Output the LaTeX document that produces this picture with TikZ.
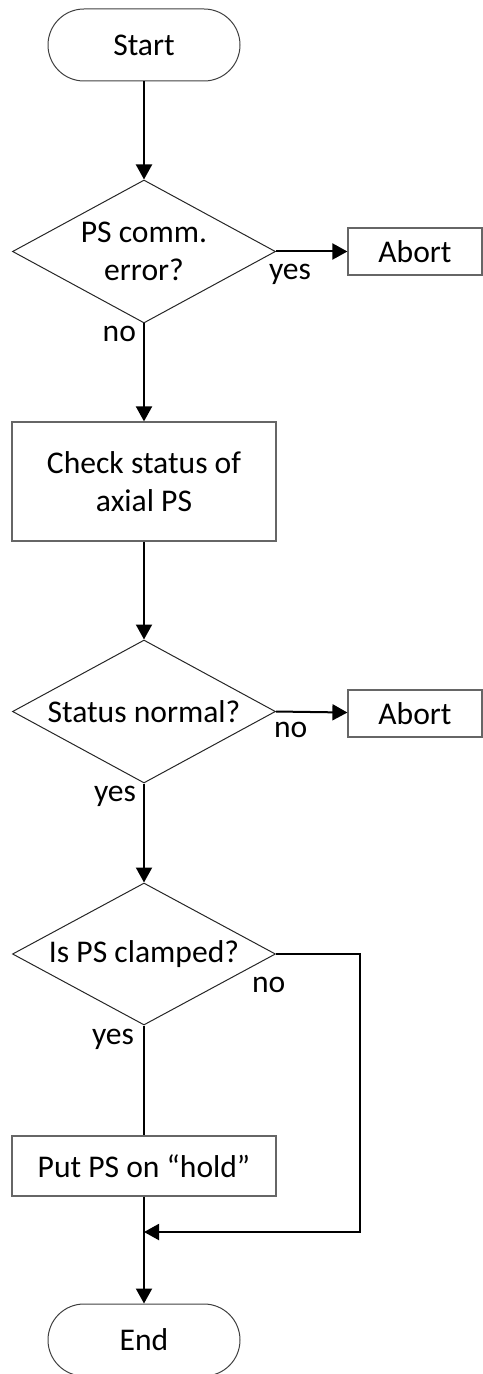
\documentclass[tikz,border=0pt]{standalone}
\usepackage{fontspec}
\setmainfont{Carlito}
\usetikzlibrary{shapes.geometric,arrows.meta,positioning}

\begin{document}
\begin{tikzpicture}[x=0.5pt,y=-0.5pt,
    font=\fontsize{15.8}{19}\selectfont,
    terminal/.style={draw=black!75, line width=0.5pt, rectangle, rounded corners=18pt, minimum width=96pt, minimum height=36pt},
    decision/.style={draw=black!85, line width=0.5pt, diamond, aspect=1.84, inner sep=0pt, minimum width=131.5pt, minimum height=71.5pt, align=center},
    process/.style={draw=black!60, line width=0.6pt, rectangle, minimum width=132pt, align=center},
    abortbox/.style={draw=black!60, line width=0.6pt, rectangle, minimum width=67pt, minimum height=23.5pt},
    flow/.style={line width=1pt, -{Triangle[length=7.5pt,width=8pt]}},
    plain/.style={line width=1pt},
    lbl/.style={inner sep=0pt}]
            \useasboundingbox (0,0) rectangle (482,1374);
            \node[terminal] (start) at (144,45) {Start};
            \node[decision] (err) at (144,251.5) {PS comm.\\error?};
            \node[abortbox] (abort1) at (415,251.5) {Abort};
            \node[process, minimum height=59.5pt] (check) at (144,481.5) {Check status of\\axial PS};
            \node[decision] (stat) at (144,711.5) {Status normal?};
            \node[abortbox] (abort2) at (415,713.5) {Abort};
            \node[decision, minimum height=71pt] (clamp) at (144,954) {Is PS clamped?};
            \node[process, minimum height=30pt] (hold) at (144,1166) {Put PS on “hold”};
            \node[terminal] (end) at (144,1340) {End};
            \coordinate (side) at (360,1232);
            \coordinate (join) at (144,1232);
            \draw[flow] (start) -- (err);
            \draw[flow] (err.east) -- node[lbl, pos=0, anchor=north west, xshift=-4pt, yshift=-6pt]{yes} (abort1);
            \draw[flow] (err.south) -- node[lbl, pos=0, anchor=north east, xshift=-3.5pt, yshift=-1pt]{no} (check);
            \draw[flow] (check) -- (stat);
            \draw[flow] (stat.east) -- node[lbl, pos=0, anchor=north west, xshift=-1.5pt, yshift=-5pt]{no} (abort2);
            \draw[flow] (stat.south) -- node[lbl, pos=0, anchor=north east, xshift=-3.5pt, yshift=-1pt]{yes} (clamp);
            \draw[plain] (clamp.south) -- node[lbl, pos=0, anchor=north east, xshift=-4.5pt, yshift=-1.5pt]{yes} (hold);
            \draw[flow] (clamp.east) -- node[lbl, pos=0, anchor=north west, xshift=-12.5pt, yshift=-11pt]{no} (clamp.east -| side) -- (side) -- (join);
            \draw[flow] (hold) -- (end);
\end{tikzpicture}
\end{document}
